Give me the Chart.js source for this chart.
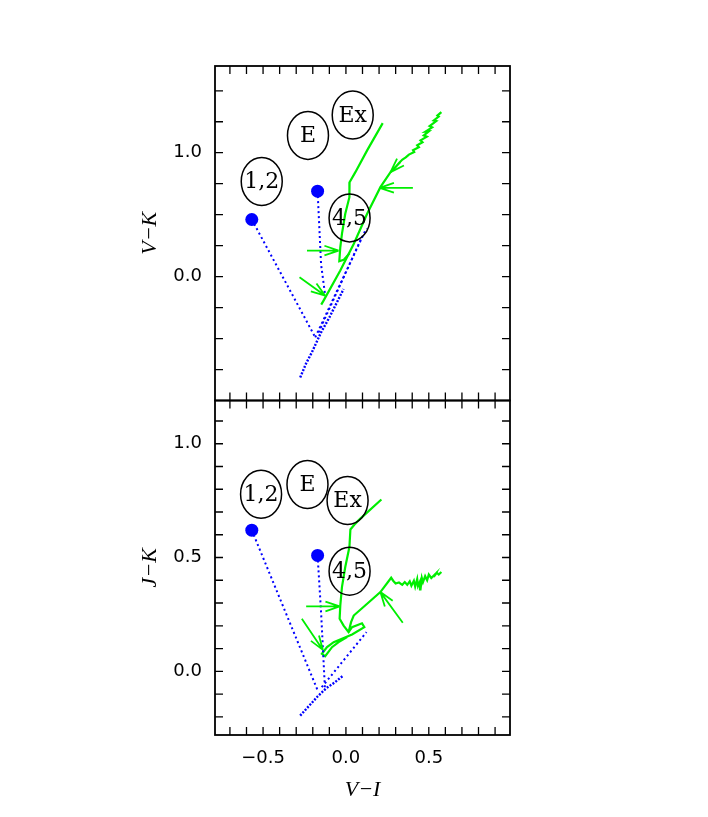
<!DOCTYPE html>
<html>
<head>
<meta charset="utf-8">
<script src="https://cdn.jsdelivr.net/npm/chart.js@4.4.1/dist/chart.umd.min.js"></script>
<style>
  body { margin: 0; background: #fff; }
  #wrap { width: 708px; height: 817px; }
</style>
</head>
<body>
<div id="wrap"><canvas id="c" width="708" height="817"></canvas></div>
<script>
// shared x axis (V-I)
const xTicks = [-0.7, -0.6, -0.5, -0.4, -0.3, -0.2, -0.1, 0, 0.1, 0.2, 0.3, 0.4, 0.5, 0.6, 0.7, 0.8, 0.9];
const xLabels = [-0.5, 0, 0.5];

// top panel: V-K
const topTicks = [-0.75, -0.5, -0.25, 0, 0.25, 0.5, 0.75, 1, 1.25, 1.5];
const topLabels = [0, 1];
const topDots = [[-0.568, 0.461], [-0.171, 0.690]];
const topBlueA = [[-0.568, 0.461], [-0.185, -0.49]];
const topBlueB = [[-0.171, 0.690], [-0.150, 0.10], [-0.125, -0.154]];
const topBlueC = [[-0.185, -0.49], [0.117, 0.372], [0.128, 0.386]];
const topBlueD = [[-0.165, -0.45], [0.090, 0.300]];
const topBlueE = [[-0.276, -0.814], [-0.24, -0.70], [-0.205, -0.61], [-0.15, -0.45], [-0.10, -0.33], [-0.014, -0.10]];
const topGreenA = [[0.222, 1.239], [0.128, 1.019], [0.057, 0.843], [0.022, 0.762], [0.021, 0.641], [-0.004, 0.507],
  [-0.024, 0.345], [-0.034, 0.237], [-0.040, 0.124], [-0.014, 0.135], [0.022, 0.188]];
const topGreenB = [[0.576, 1.328], [0.552, 1.300], [0.560, 1.292], [0.530, 1.260], [0.545, 1.255], [0.505, 1.215],
  [0.520, 1.205], [0.480, 1.170], [0.500, 1.172], [0.470, 1.140], [0.488, 1.130], [0.450, 1.100],
  [0.462, 1.085], [0.430, 1.060], [0.440, 1.045], [0.405, 1.020], [0.412, 1.005], [0.380, 0.985],
  [0.361, 0.962], [0.341, 0.945], [0.322, 0.920], [0.299, 0.884], [0.269, 0.843], [0.208, 0.722],
  [0.128, 0.507], [0.047, 0.264], [-0.034, 0.049], [-0.135, -0.194], [-0.149, -0.226]];
const topArrows = [[-0.235, 0.21, -0.044, 0.21], [-0.280, -0.006, -0.125, -0.154], [0.404, 0.717, 0.204, 0.717],
  [0.329, 0.924, 0.269, 0.843]];
const topNotes = [[-0.508, 0.768, '1,2'], [-0.229, 1.140, 'E'], [0.041, 1.304, 'Ex'], [0.022, 0.474, '4,5']];

// bottom panel: J-K
const botTicks = [-0.2, -0.1, 0, 0.1, 0.2, 0.3, 0.4, 0.5, 0.6, 0.7, 0.8, 0.9, 1.0, 1.1];
const botLabels = [0, 0.5, 1];
const botDots = [[-0.568, 0.620], [-0.171, 0.509]];
const botBlueA = [[-0.568, 0.620], [-0.166, -0.092]];
const botBlueB = [[-0.171, 0.509], [-0.150, 0.260], [-0.126, -0.085]];
const botBlueC = [[-0.146, -0.070], [0.124, 0.172]];
const botBlueD = [[-0.276, -0.195], [-0.22, -0.15], [-0.17, -0.11], [-0.12, -0.075], [-0.07, -0.05], [-0.016, -0.019]];
const botGreenA = [[0.214, 0.755], [0.087, 0.671], [0.057, 0.649], [0.027, 0.623], [0.021, 0.546], [-0.004, 0.458],
  [-0.024, 0.370], [-0.034, 0.289], [-0.038, 0.231], [-0.014, 0.201], [0.016, 0.172], [0.037, 0.194],
  [0.097, 0.211], [0.111, 0.194], [0.037, 0.162], [-0.024, 0.143], [-0.074, 0.128], [-0.114, 0.106],
  [-0.145, 0.077], [-0.125, 0.066], [-0.084, 0.106], [-0.044, 0.128], [0.007, 0.150]];
const botGreenB = [[0.576, 0.436], [0.560, 0.425], [0.548, 0.433], [0.530, 0.415], [0.540, 0.428], [0.515, 0.410],
  [0.500, 0.425], [0.490, 0.400], [0.478, 0.418], [0.465, 0.392], [0.458, 0.410], [0.450, 0.360],
  [0.447, 0.395], [0.435, 0.375], [0.430, 0.405], [0.418, 0.372], [0.410, 0.398], [0.395, 0.376],
  [0.385, 0.395], [0.370, 0.380], [0.355, 0.392], [0.340, 0.380], [0.320, 0.390], [0.300, 0.386],
  [0.285, 0.398], [0.273, 0.411], [0.208, 0.348], [0.128, 0.297], [0.047, 0.245], [0.031, 0.216],
  [0.016, 0.172]];
const botArrows = [[-0.240, 0.285, -0.038, 0.285], [-0.266, 0.231, -0.139, 0.094], [0.343, 0.213, 0.208, 0.348]];
const botNotes = [[-0.512, 0.778, '1,2'], [-0.232, 0.821, 'E'], [0.010, 0.750, 'Ex'], [0.022, 0.440, '4,5']];

const blue = '#0000ff';
const green = '#00ee00';

function toXY(pts) {
  return pts.map(p => ({ x: p[0], y: p[1] }));
}

function track(pts, color, axis, dash, width) {
  return {
    data: toXY(pts), showLine: true, borderColor: color, borderWidth: width,
    borderDash: dash, pointRadius: 0, yAxisID: axis, tension: 0
  };
}

function dots(pts, axis) {
  return {
    data: toXY(pts), showLine: false, pointRadius: 6.5, pointHoverRadius: 6.5,
    backgroundColor: blue, borderColor: blue, borderWidth: 0, yAxisID: axis
  };
}

function fmt(v) {
  return v.toFixed(1).replace('-', '\u2212');
}

function yScale(id, min, max, ticks, labels, title) {
  return {
    type: 'linear', position: 'left', stack: 'panels', stackWeight: 1,
    min: min, max: max, offset: false,
    afterBuildTicks: s => { s.ticks = ticks.map(v => ({ value: v })); },
    afterFit: s => { s.width = 215; },
    grid: { display: false, drawTicks: false },
    border: { display: false },
    ticks: {
      padding: 13, color: '#000', autoSkip: false, font: { family: 'DejaVu Sans', size: 18 },
      callback: v => labels.includes(v) ? fmt(v) : ''
    },
    title: {
      display: true, text: title, color: '#000', padding: { top: 137, bottom: 0 },
      font: { family: 'Liberation Serif', size: 22, style: 'italic' }
    }
  };
}

const panels = [
  { id: 'yTop', ticks: topTicks, notes: topNotes, arrows: topArrows },
  { id: 'yBot', ticks: botTicks, notes: botNotes, arrows: botArrows }
];

const framePlugin = {
  id: 'frame',
  afterDatasetsDraw(chart) {
    const ctx = chart.ctx;
    const xs = chart.scales.x;
    ctx.save();
    panels.forEach(p => {
      const ys = chart.scales[p.id];
      // ellipses with labels
      ctx.strokeStyle = '#000';
      ctx.lineWidth = 1.5;
      ctx.fillStyle = '#000';
      ctx.font = '22px "DejaVu Serif"';
      ctx.textAlign = 'center';
      ctx.textBaseline = 'middle';
      p.notes.forEach(n => {
        const cx = xs.getPixelForValue(n[0]);
        const cy = ys.getPixelForValue(n[1]);
        ctx.beginPath();
        ctx.ellipse(cx, cy, 20.5, 24, 0, 0, Math.PI * 2);
        ctx.stroke();
        ctx.fillText(n[2], cx, cy + 1);
      });
      // green arrows
      ctx.strokeStyle = green;
      ctx.lineWidth = 1.8;
      p.arrows.forEach(a => {
        const x0 = xs.getPixelForValue(a[0]), y0 = ys.getPixelForValue(a[1]);
        const x1 = xs.getPixelForValue(a[2]), y1 = ys.getPixelForValue(a[3]);
        const ang = Math.atan2(y1 - y0, x1 - x0);
        ctx.beginPath();
        ctx.moveTo(x0, y0);
        ctx.lineTo(x1, y1);
        [-1, 1].forEach(s => {
          ctx.moveTo(x1, y1);
          ctx.lineTo(x1 - 15 * Math.cos(ang + s * 0.33), y1 - 15 * Math.sin(ang + s * 0.33));
        });
        ctx.stroke();
      });
      // frame and inward ticks
      ctx.strokeStyle = '#000';
      ctx.lineWidth = 1.8;
      ctx.strokeRect(xs.left, ys.top, xs.right - xs.left, ys.bottom - ys.top);
      ctx.lineWidth = 1.3;
      ctx.beginPath();
      xTicks.forEach(v => {
        const px = xs.getPixelForValue(v);
        ctx.moveTo(px, ys.top); ctx.lineTo(px, ys.top + 8);
        ctx.moveTo(px, ys.bottom); ctx.lineTo(px, ys.bottom - 8);
      });
      p.ticks.forEach(v => {
        const py = ys.getPixelForValue(v);
        ctx.moveTo(xs.left, py); ctx.lineTo(xs.left + 8, py);
        ctx.moveTo(xs.right, py); ctx.lineTo(xs.right - 8, py);
      });
      ctx.stroke();
    });
    ctx.restore();
  }
};

new Chart(document.getElementById('c'), {
  type: 'scatter',
  data: {
    datasets: [
      track(topBlueA, blue, 'yTop', [2, 3], 2),
      track(topBlueB, blue, 'yTop', [2, 3], 2),
      track(topBlueC, blue, 'yTop', [2, 3], 2),
      track(topBlueD, blue, 'yTop', [2, 3], 2),
      track(topBlueE, blue, 'yTop', [2, 1.5], 2.4),
      track(topGreenA, green, 'yTop', [], 2.2),
      track(topGreenB, green, 'yTop', [], 2.2),
      dots(topDots, 'yTop'),
      track(botBlueA, blue, 'yBot', [2, 3], 2),
      track(botBlueB, blue, 'yBot', [2, 3], 2),
      track(botBlueC, blue, 'yBot', [2, 3], 2),
      track(botBlueD, blue, 'yBot', [2, 1.5], 2.4),
      track(botGreenA, green, 'yBot', [], 2.2),
      track(botGreenB, green, 'yBot', [], 2.2),
      dots(botDots, 'yBot')
    ]
  },
  options: {
    responsive: false,
    animation: false,
    devicePixelRatio: 1,
    layout: { padding: { left: 0, right: 198, top: 66, bottom: 0 } },
    plugins: { legend: { display: false }, tooltip: { enabled: false } },
    scales: {
      x: {
        type: 'linear', min: -0.79, max: 0.99,
        afterBuildTicks: s => { s.ticks = xTicks.map(v => ({ value: v })); },
        afterFit: s => { s.height = 82; },
        grid: { display: false, drawTicks: false },
        border: { display: false },
        ticks: {
          padding: 13, color: '#000', maxRotation: 0, autoSkip: false,
          font: { family: 'DejaVu Sans', size: 18 },
          callback: v => xLabels.includes(v) ? fmt(v) : ''
        },
        title: {
          display: true, text: 'V\u2212I', color: '#000', padding: { top: 0, bottom: 14 },
          font: { family: 'Liberation Serif', size: 22, style: 'italic' }
        }
      },
      yBot: yScale('yBot', -0.28, 1.19, botTicks, botLabels, 'J\u2212K'),
      yTop: yScale('yTop', -1.0, 1.7, topTicks, topLabels, 'V\u2212K')
    }
  },
  plugins: [framePlugin]
});
</script>
</body>
</html>
